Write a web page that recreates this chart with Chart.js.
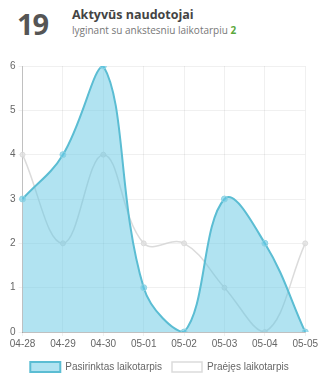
<!DOCTYPE html>
<html>
<head>
<meta charset="utf-8">
<script src="https://cdn.jsdelivr.net/npm/chart.js@4/dist/chart.umd.min.js"></script>
<style>
  html, body { margin: 0; padding: 0; background: #fff; width: 320px; height: 375px; overflow: hidden; position: relative; }
  .head { position: absolute; left: 0; top: 0; width: 320px; height: 50px; }
  .big { position: absolute; left: 17px; top: 4px; font: 700 29px "Open Sans", sans-serif; color: #555; letter-spacing: -1px; }
  .title { position: absolute; left: 72px; top: 6px; font: 700 12.5px "Open Sans", sans-serif; color: #444; }
  .sub { position: absolute; left: 72px; top: 23px; font: 400 10px "Open Sans", sans-serif; color: #777; }
  .sub b { color: #5aa83c; }
  .wrap { position: absolute; left: 0; top: 52px; width: 320px; height: 330px; }
</style>
</head>
<body>
<div class="head">
  <div class="big">19</div>
  <div class="title">Aktyvūs naudotojai</div>
  <div class="sub">lyginant su ankstesniu laikotarpiu <b>2</b></div>
</div>
<div class="wrap"><canvas id="c"></canvas></div>
<script>
const labels = ['04-28', '04-29', '04-30', '05-01', '05-02', '05-03', '05-04', '05-05'];
const currentPeriod = [3, 4, 6, 1, 0, 3, 2, 0];
const previousPeriod = [4, 2, 4, 2, 2, 1, 0, 2];
const yTicks = [0, 1, 2, 3, 4, 5, 6];

Chart.defaults.font.family = '"Liberation Sans", Helvetica, Arial, sans-serif';
Chart.defaults.font.size = 10;
Chart.defaults.color = '#666';

new Chart(document.getElementById('c'), {
  type: 'line',
  data: {
    labels: labels,
    datasets: [
      {
        label: 'Pasirinktas laikotarpis',
        data: currentPeriod,
        fill: true,
        backgroundColor: 'rgba(100,200,228,0.5)',
        borderColor: '#5bbdd3',
        borderWidth: 2,
        pointRadius: 3,
        pointBackgroundColor: 'rgba(100,200,228,0.6)',
        pointBorderColor: '#8fd3e3',
        pointBorderWidth: 1,
        tension: 0.4
      },
      {
        label: 'Praėjęs laikotarpis',
        data: previousPeriod,
        fill: false,
        backgroundColor: 'rgba(255,255,255,0.8)',
        borderColor: 'rgba(210,210,210,0.8)',
        borderWidth: 1.5,
        pointRadius: 2.5,
        pointBackgroundColor: 'rgba(225,225,225,0.8)',
        pointBorderColor: 'rgba(215,215,215,0.8)',
        pointBorderWidth: 1,
        tension: 0.4
      }
    ]
  },
  options: {
    responsive: true,
    maintainAspectRatio: false,
    animation: false,
    layout: { padding: { left: 7, right: 8, top: 14, bottom: 0 } },
    plugins: {
      legend: {
        position: 'bottom',
        labels: {
          boxWidth: 30,
          boxHeight: 10,
          padding: 10,
          color: '#666',
          font: { size: 10 }
        }
      },
      tooltip: { enabled: false }
    },
    scales: {
      x: {
        grid: { color: 'rgba(0,0,0,0.06)', drawTicks: true, tickLength: 4 },
        border: { color: 'rgba(0,0,0,0.2)' },
        ticks: { color: '#666', padding: 2, maxRotation: 0, autoSkip: false }
      },
      y: {
        min: 0,
        max: 6,
        afterBuildTicks: (axis) => { axis.ticks = yTicks.map(v => ({ value: v })); },
        grid: { color: 'rgba(0,0,0,0.06)', tickLength: 4 },
        border: { color: 'rgba(0,0,0,0.2)' },
        ticks: { color: '#666', padding: 3, stepSize: 1 }
      }
    }
  }
});
</script>
</body>
</html>
